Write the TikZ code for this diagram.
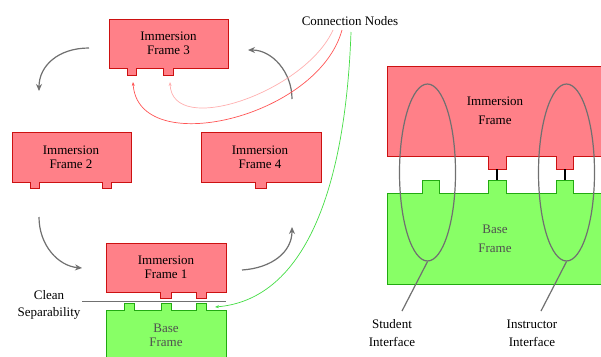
\documentclass[tikz,border=0pt]{standalone}
\usepackage{fontspec}
\setmainfont{Liberation Serif}
\usetikzlibrary{arrows.meta,shapes.geometric}
\definecolor{redfill}{HTML}{FF8088}
\definecolor{redline}{HTML}{CC1111}
\definecolor{greenfill}{HTML}{88FF66}
\definecolor{greenline}{HTML}{22AA11}
\definecolor{cyc}{HTML}{707070}
\definecolor{basetext}{HTML}{505050}
\definecolor{pinkline}{HTML}{FFB0B0}
\definecolor{redconn}{HTML}{FF5555}
\definecolor{greenconn}{HTML}{44DD44}
\tikzset{
  immframe/.style={fill=redfill,draw=redline,line width=0.9pt},
  baseframe/.style={fill=greenfill,draw=greenline,line width=0.9pt},
  smalltext/.style={font=\fontsize{13}{14}\selectfont,align=center,inner sep=0pt},
  bigtext/.style={font=\fontsize{13}{19}\selectfont,align=center,inner sep=0pt},
  cycarrow/.style={draw=cyc,line width=1.2pt,-{Stealth[length=7pt,width=6pt]}},
  ringstyle/.style={draw=cyc,line width=1.2pt,ellipse,minimum width=56pt,minimum height=177pt,inner sep=0pt},
  pointer/.style={draw=cyc,line width=1.2pt},
  conn/.style={line width=0.7pt,-{Stealth[length=4pt,width=3pt]}},
  linkbar/.style={draw=black,line width=2.5pt}
}
\begin{document}
\begin{tikzpicture}[x=1pt,y=-1pt]
\useasboundingbox (0,0) rectangle (601,356);
\clip (0,0) rectangle (601,356);
\fill[white] (0,0) rectangle (601,356);

% ---------- left: frames ----------
% Frame 3
\draw[immframe] (109,19) -- (228,19) -- (228,68) -- (173,68) -- (173,75) -- (163,75) -- (163,68)
  -- (136,68) -- (136,75) -- (127,75) -- (127,68) -- (109,68) -- cycle;
\node[smalltext] (f3) at (168.5,43.5) {Immersion\\Frame 3};
% Frame 2
\draw[immframe] (12,132) -- (131,132) -- (131,182) -- (111,182) -- (111,188) -- (102,188) -- (102,182)
  -- (39,182) -- (39,188) -- (30,188) -- (30,182) -- (12,182) -- cycle;
\node[smalltext] (f2) at (71,157) {Immersion\\Frame 2};
% Frame 4
\draw[immframe] (201,132) -- (321,132) -- (321,182) -- (266,182) -- (266,188) -- (255,188) -- (255,182)
  -- (201,182) -- cycle;
\node[smalltext] (f4) at (260,157) {Immersion\\Frame 4};
% Frame 1
\draw[immframe] (106,243) -- (226,243) -- (226,292) -- (206,292) -- (206,298) -- (196,298) -- (196,292)
  -- (171,292) -- (171,298) -- (160,298) -- (160,292) -- (106,292) -- cycle;
\node[smalltext] (f1) at (166,267.5) {Immersion\\Frame 1};
% Base frame (left)
\draw[baseframe] (106,360) -- (106,310) -- (124,310) -- (124,303) -- (134,303) -- (134,310)
  -- (161,310) -- (161,303) -- (171,303) -- (171,310) -- (196,310) -- (196,303) -- (206,303)
  -- (206,310) -- (226,310) -- (226,360);
\node[smalltext,text=basetext] (b0) at (166,335.5) {Base\\Frame};

% separator
\coordinate (sepL) at (82,301);
\coordinate (sepR) at (226,301);
\draw[cyc,line width=1pt] (sepL) -- (sepR);
\node[font=\fontsize{13}{17}\selectfont,align=center,inner sep=0pt] (clean) at (49,305) {Clean\\Separability};

% cycle arrows
\coordinate (a1s) at (89,48);  \coordinate (a1e) at (39,91);
\coordinate (a2s) at (39,217); \coordinate (a2e) at (82,268);
\coordinate (a3s) at (242,270); \coordinate (a3e) at (292,227);
\coordinate (a4s) at (292,99); \coordinate (a4e) at (248,50);
\draw[cycarrow] (a1s) .. controls (58,48) and (39,66) .. (a1e);
\draw[cycarrow] (a2s) .. controls (39,245) and (58,266) .. (a2e);
\draw[cycarrow] (a3s) .. controls (272,268) and (292,252) .. (a3e);
\draw[cycarrow] (a4s) .. controls (292,72) and (272,50) .. (a4e);

% connection nodes
\node[font=\fontsize{13}{14}\selectfont,inner sep=0pt] (cn) at (350,21) {Connection Nodes};
\coordinate (c1) at (333,30);
\coordinate (c2) at (342,30);
\coordinate (c3) at (351,32);
\coordinate (t3b) at (170,82);
\coordinate (t3a) at (133,82);
\coordinate (tb) at (215,307);
\draw[conn,pinkline] (c1) .. controls (305,92) and (172,138) .. (t3b);
\draw[conn,redconn] (c2) .. controls (318,118) and (138,160) .. (t3a);
\draw[conn,greenconn] (c3) .. controls (345,200) and (300,300) .. (tb);

% ---------- right diagram ----------
\draw[immframe] (606,66) -- (387,66) -- (387,156) -- (488,156) -- (488,169) -- (506,169) -- (506,156)
  -- (556,156) -- (556,169) -- (573,169) -- (573,156) -- (606,156);
\node[bigtext] (rimm) at (495,110.5) {Immersion\\Frame};
\draw[baseframe] (606,193) -- (573,193) -- (573,180) -- (556,180) -- (556,193) -- (506,193) -- (506,180)
  -- (488,180) -- (488,193) -- (439,193) -- (439,180) -- (422,180) -- (422,193) -- (387,193)
  -- (387,284) -- (606,284);
\node[bigtext,text=basetext] (rbase) at (495,238.5) {Base\\Frame};

% link bars
\coordinate (l1t) at (497,169); \coordinate (l1b) at (497,180);
\coordinate (l2t) at (565,169); \coordinate (l2b) at (565,180);
\draw[linkbar] (l1t) -- (l1b);
\draw[linkbar] (l2t) -- (l2b);

% interface rings
\node[ringstyle] (e1) at (427.5,172.5) {};
\node[ringstyle] (e2) at (566.5,172.5) {};
\coordinate (p1) at (402,311);
\coordinate (p2) at (541,311);
\draw[pointer] (e1.south) -- (p1);
\draw[pointer] (e2.south) -- (p2);
\node[font=\fontsize{13}{18}\selectfont,align=center,inner sep=0pt] (stud) at (392,333) {Student\\Interface};
\node[font=\fontsize{13}{18}\selectfont,align=center,inner sep=0pt] (instr) at (532,333) {Instructor\\Interface};
\end{tikzpicture}
\end{document}
